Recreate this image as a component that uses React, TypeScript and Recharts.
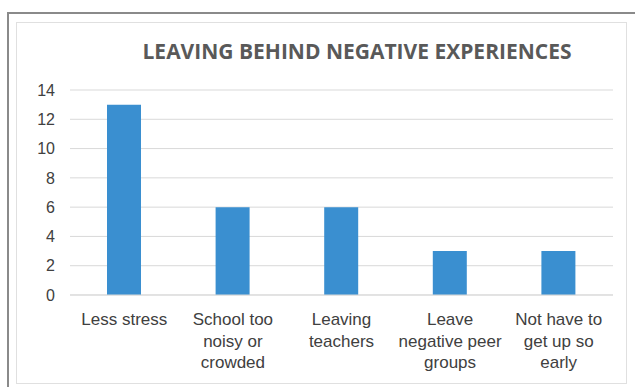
import { BarChart, Bar, XAxis, YAxis, CartesianGrid } from 'recharts';

const categories = [
  'Less stress',
  'School too\nnoisy or\ncrowded',
  'Leaving\nteachers',
  'Leave\nnegative peer\ngroups',
  'Not have to\nget up so\nearly',
];
const counts = [13, 6, 6, 3, 3];
const yTicks = [0, 2, 4, 6, 8, 10, 12, 14];

const data = categories.map((name, i) => ({ name, value: counts[i] }));

const MultiLineTick = (props: any) => {
  const { x, y, payload } = props;
  const lines = String(payload.value).split('\n');
  return (
    <text x={x} y={y} textAnchor="middle" fill="#404040" fontSize={17} fontFamily="'Liberation Sans', Arial, sans-serif">
      {lines.map((line, i) => (
        <tspan key={i} x={x} dy={i === 0 ? 22 : 21.5}>
          {line}
        </tspan>
      ))}
    </text>
  );
};

export default function App() {
  return (
    <div style={{ position: 'absolute', left: 0, top: 0, width: 635, height: 387, background: '#fff', overflow: 'hidden' }}>
      <div style={{ position: 'absolute', left: 7, top: 12, width: 640, height: 400, border: '2px solid #8a8a8a' }} />
      <div style={{ position: 'absolute', left: 16, top: 22, width: 609, height: 360, border: '1px solid #e0e0e0' }} />
      <div
        style={{
          position: 'absolute',
          left: 0,
          width: 714,
          top: 37,
          textAlign: 'center',
          fontFamily: "'Open Sans', sans-serif",
          fontWeight: 700,
          fontSize: 21,
          color: '#595959',
        }}
      >
        LEAVING BEHIND NEGATIVE EXPERIENCES
      </div>
      <div style={{ position: 'absolute', left: 0, top: 0 }}>
        <BarChart width={635} height={387} data={data} margin={{ top: 90, right: 22, bottom: 62, left: 0 }} barSize={34}>
          <CartesianGrid vertical={false} stroke="#d9d9d9" />
          <XAxis dataKey="name" axisLine={{ stroke: '#d9d9d9' }} tickLine={false} interval={0} tick={<MultiLineTick />} />
          <YAxis
            width={70}
            domain={[0, 14]}
            ticks={yTicks}
            axisLine={false}
            tickLine={false}
            tickSize={0}
            tickMargin={15}
            tick={{ fill: '#404040', fontSize: 16, fontFamily: "'Liberation Sans', Arial, sans-serif" }}
          />
          <Bar dataKey="value" fill="#3a8fd0" isAnimationActive={false} />
        </BarChart>
      </div>
    </div>
  );
}
